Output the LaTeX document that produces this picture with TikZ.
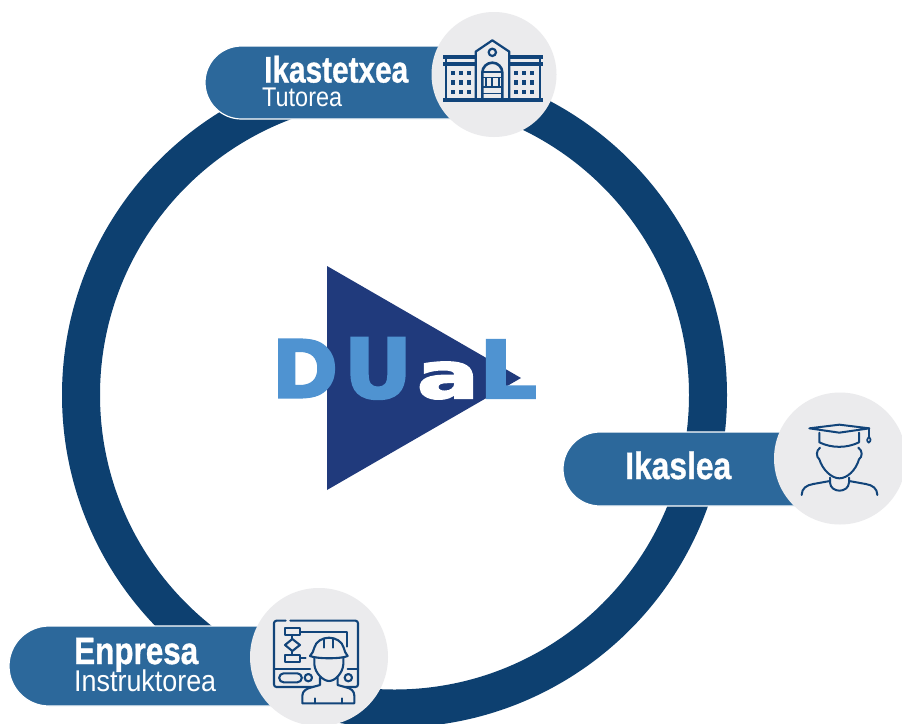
\documentclass[tikz,border=0pt]{standalone}
\usepackage{graphicx}
\usepackage{fontspec}
\setmainfont{Liberation Sans}[BoldFeatures={FakeBold=1}]
\newfontfamily\logofont{DejaVu Sans Bold}[FakeBold=3]
\definecolor{ringblue}{HTML}{0D4070}
\definecolor{pillblue}{HTML}{2C689B}
\definecolor{discgrey}{HTML}{EBEBED}
\definecolor{iconblue}{HTML}{11447A}
\definecolor{logodark}{HTML}{203A7C}
\definecolor{logolight}{HTML}{4F93D1}
\newcommand{\lbltxt}[4]{\resizebox{#1pt}{\height}{#3\fontsize{#2}{#2}\selectfont #4}}
\newcommand{\logoltr}[3]{\resizebox{#1pt}{#2pt}{\logofont #3}}
\tikzset{
  pill/.style={fill=pillblue,draw=white,line width=1.2pt,rounded corners=#1,inner sep=0pt},
  disc/.style={circle,fill=discgrey,inner sep=0pt,draw=none},
  lbl/.style={anchor=base west,inner sep=0pt,text=white},
  lgl/.style={anchor=south west,inner sep=0pt,outer sep=0pt},
  ico/.style={draw=iconblue,line cap=round,line join=round,line width=#1},
  ico/.default=2.1pt
}
\begin{document}
\begin{tikzpicture}[x=1pt,y=-1pt]
\path[clip] (0,0) rectangle (902,723);
\fill[white] (0,0) rectangle (902,723);
% ring
\draw[ringblue,line width=38pt] (394.5,395) circle (313.5pt);
% logo
\fill[logodark] (327,266) -- (521,378) -- (327,490) -- cycle;
\node[lgl,text=logolight] (logoD) at (272,397.5) {\logoltr{66}{58}{D}};
\node[lgl,text=logolight] (logoU) at (344,399) {\logoltr{68}{60}{U}};
\node[lgl,text=white] (logoA) at (417,399) {\logoltr{62}{36}{a}};
\node[lgl,text=logolight] (logoL) at (479,398) {\logoltr{58}{58}{L}};
% pills
\node[pill=36.5pt,minimum width=300pt,minimum height=73pt] (pillTop) at (355,82.5) {};
\node[pill=37pt,minimum width=280pt,minimum height=74pt] (pillRight) at (703,469) {};
\node[pill=40pt,minimum width=320pt,minimum height=80pt] (pillLeft) at (169,666) {};
% discs
\node[disc,minimum size=125pt] (discTop) at (494,74.5) {};
\node[disc,minimum size=132pt] (discRight) at (840,458.5) {};
\node[disc,minimum size=138pt] (discLeft) at (319,657) {};
% labels
\node[lbl] (t1) at (264,82.5) {\lbltxt{144}{37}{\bfseries}{Ikastetxea}};
\node[lbl] (t2) at (262,106.5) {\lbltxt{80}{27}{}{Tutorea}};
\node[lbl] (t3) at (625,479) {\lbltxt{106}{38}{\bfseries}{Ikaslea}};
\node[lbl] (t4) at (74,664) {\lbltxt{124}{38}{\bfseries}{Enpresa}};
\node[lbl] (t5) at (74,691.5) {\lbltxt{142}{30}{}{Instruktorea}};
% school icon
\begin{scope}[shift={(430,20)},x=0.3333pt,y=-0.3333pt]
  \fill[iconblue] (40,235) rectangle (338,246);
  \fill[iconblue] (40,105) rectangle (135,117);
  \fill[iconblue] (240,105) rectangle (338,117);
  \fill[iconblue] (40,127) rectangle (135,137);
  \fill[iconblue] (240,127) rectangle (338,137);
  \fill[iconblue] (45,117) rectangle (51,235);
  \fill[iconblue] (327,117) rectangle (333,235);
  \draw[ico=2.2pt] (137,235) -- (137,95) -- (187,61) -- (238,95) -- (238,235);
  \draw[ico=2.2pt] (187,97) circle (11);
  \draw[ico=2.6pt] (157,235) -- (157,158) arc[start angle=180,end angle=360,x radius=30,y radius=30] -- (217,235);
  \fill[iconblue] (157,152) rectangle (217,158);
  \foreach \cx in {168,187,206} {\fill[iconblue] (\cx-3,172) rectangle (\cx+3,198);}
  \fill[iconblue] (157,170) rectangle (217,175);
  \fill[iconblue] (157,198) rectangle (217,204);
  \fill[iconblue] (157,218) rectangle (217,222);
  \foreach \wx in {63,87,111,252,276,300}
    \foreach \wy in {153,181,210}
      {\fill[iconblue] (\wx,\wy) rectangle (\wx+13,\wy+13);}
\end{scope}
% student icon
\begin{scope}[shift={(790,410)},x=0.3333pt,y=-0.3333pt]
  \draw[ico=2pt] (58,55) -- (148,44) -- (238,55) -- (148,68) -- cycle;
  \draw[ico=2pt] (88,68) -- (88,97) .. controls (125,115) and (170,115) .. (207,97) -- (207,68);
  \draw[ico=1.7pt] (238,55) -- (238,80);
  \draw[ico=1.7pt] (236,98) .. controls (228,92) and (232,85) .. (237,80) .. controls (242,85) and (245,92) .. (236,98) -- cycle;
  \draw[ico=2pt] (90,113) .. controls (78,122) and (78,140) .. (88,148) .. controls (98,180) and (125,205) .. (148,205) .. controls (172,205) and (198,180) .. (207,148) .. controls (218,140) and (218,122) .. (205,113);
  \draw[ico=2pt] (120,203) -- (120,218) .. controls (122,250) and (175,250) .. (177,218) -- (177,203);
  \draw[ico=2pt] (35,255) .. controls (35,235) and (50,225) .. (70,222) -- (120,213);
  \draw[ico=2pt] (262,255) .. controls (262,235) and (247,225) .. (227,222) -- (177,213);
\end{scope}
% engineer icon
\begin{scope}[shift={(265,605)},x=0.3333pt,y=-0.3333pt]
  \draw[ico,rounded corners=2.5pt] (62,47) -- (27,47) -- (27,246) -- (279,246) -- (279,47) -- (76,47);
  \draw[ico] (27,191) -- (135,191);
  \draw[ico] (248,191) -- (279,191);
  \draw[ico] (60,68) rectangle (105,90);
  \draw[ico] (82,102) -- (105,120) -- (82,138) -- (60,120) -- cycle;
  \draw[ico] (60,150) rectangle (105,172);
  \draw[ico] (82,90) -- (82,102) (82,138) -- (82,150);
  \draw[ico] (105,80) -- (245,80) -- (245,125);
  \draw[ico] (105,160) -- (122,160);
  \draw[ico] (56,205) -- (97,205) arc[start angle=270,end angle=450,radius=13.5] -- (56,232) arc[start angle=90,end angle=270,radius=13.5] -- cycle;
  \draw[ico] (130,218) circle (11);
  \draw[ico] (250,218) circle (11);
  % worker
  \draw[ico,fill=discgrey] (112,295) -- (112,272) .. controls (112,258) and (125,250) .. (140,247) -- (165,240) -- (165,218) -- (218,218) -- (218,240) -- (243,247) .. controls (258,250) and (268,258) .. (268,272) -- (268,295) -- cycle;
  \draw[ico] (150,280) -- (150,295) (232,280) -- (232,295);
  \draw[ico,fill=discgrey] (148,155) -- (148,178) .. controls (150,205) and (175,228) .. (192,228) .. controls (210,228) and (233,205) .. (235,178) -- (235,155) -- cycle;
  \draw[ico,fill=discgrey] (135,153) .. controls (142,145) and (146,138) .. (148,128) .. controls (152,110) and (172,98) .. (192,98) .. controls (212,98) and (232,110) .. (236,128) .. controls (238,138) and (242,145) .. (248,153) .. controls (230,162) and (155,162) .. (135,153) -- cycle;
  \draw[ico] (178,103) -- (178,128) (205,103) -- (205,128);
\end{scope}
\end{tikzpicture}
\end{document}
